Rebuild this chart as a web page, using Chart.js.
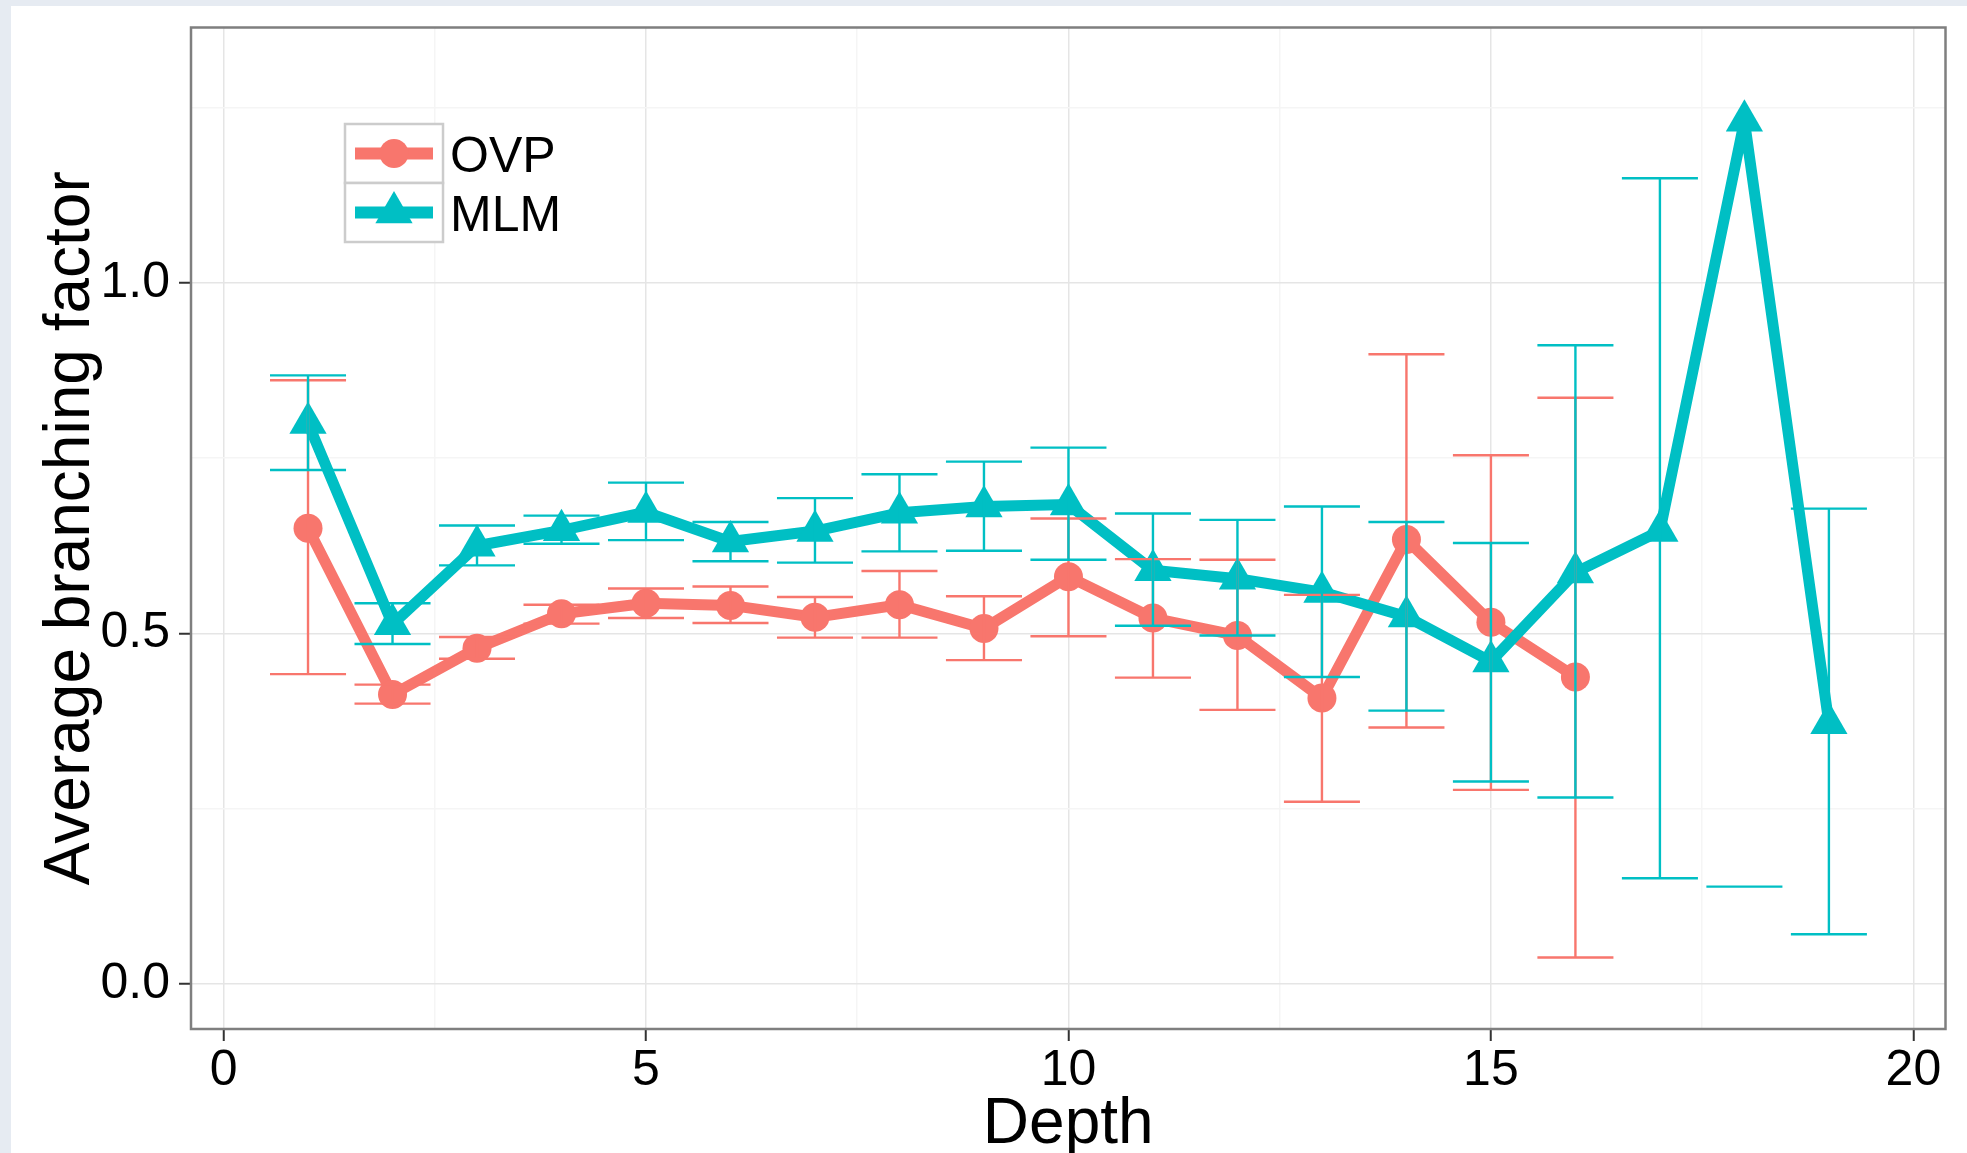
<!DOCTYPE html>
<html>
<head>
<meta charset="utf-8">
<title>Average branching factor by depth</title>
<script src="https://cdn.jsdelivr.net/npm/chart.js@4.4.1/dist/chart.umd.min.js"></script>
<style>
  html, body { margin: 0; padding: 0; }
  body { background: #e6ebf2; width: 1967px; height: 1153px; overflow: hidden; position: relative; }
  #wrap { position: absolute; left: 11px; top: 6px; width: 1956px; height: 1147px; background: #ffffff; }
</style>
</head>
<body>
<div id="wrap"><canvas id="chart"></canvas></div>
<script>
// depth levels
const depth = [1, 2, 3, 4, 5, 6, 7, 8, 9, 10, 11, 12, 13, 14, 15, 16, 17, 18, 19];

// OVP series (mean, lower, upper)
const ovpMean = [0.650, 0.413, 0.479, 0.528, 0.543, 0.540, 0.523, 0.541, 0.507, 0.581, 0.522, 0.497, 0.408, 0.634, 0.516, 0.438];
const ovpLow  = [0.442, 0.400, 0.464, 0.514, 0.522, 0.515, 0.494, 0.494, 0.462, 0.496, 0.437, 0.391, 0.260, 0.366, 0.277, 0.038];
const ovpHigh = [0.861, 0.427, 0.495, 0.541, 0.564, 0.567, 0.552, 0.589, 0.553, 0.664, 0.606, 0.605, 0.555, 0.898, 0.754, 0.836];

// MLM series (mean, lower, upper)
const mlmMean = [0.800, 0.513, 0.625, 0.647, 0.673, 0.631, 0.646, 0.672, 0.681, 0.684, 0.590, 0.578, 0.559, 0.524, 0.460, 0.587, 0.646, 1.231, 0.372];
const mlmLow  = [0.733, 0.485, 0.597, 0.628, 0.633, 0.603, 0.601, 0.617, 0.618, 0.605, 0.511, 0.497, 0.438, 0.390, 0.289, 0.266, 0.151, 0.139, 0.071];
const mlmHigh = [0.868, 0.543, 0.654, 0.668, 0.715, 0.659, 0.693, 0.727, 0.745, 0.765, 0.671, 0.662, 0.681, 0.659, 0.629, 0.911, 1.149, null, 0.678];

// axis ticks
const xTicks = [0, 5, 10, 15, 20];
const xTickLabels = ['0', '5', '10', '15', '20'];
const yTicks = [0, 0.5, 1.0];
const yTickLabels = ['0.0', '0.5', '1.0'];

const RED = '#F8766D';
const TEAL = '#00BFC4';
const FONT = "'Liberation Sans', Arial, Helvetica, sans-serif";

function withMinor(major) {
  const step = major[1] - major[0];
  const out = [];
  major.forEach(v => { out.push(v); out.push(v + step / 2); });
  return out;
}
const isMajor = (list, v) => list.some(t => Math.abs(t - v) < 1e-9);

const series = [
  { name: 'OVP', color: RED, style: 'circle', radius: 14.5, mean: ovpMean, low: ovpLow, high: ovpHigh },
  { name: 'MLM', color: TEAL, style: 'triangle', radius: 21.5, mean: mlmMean, low: mlmLow, high: mlmHigh }
];

// error bars drawn over lines and points, like the ggplot layer order
const errorBars = {
  id: 'errorBars',
  afterDatasetsDraw(chart) {
    const {ctx, scales: {x, y}, chartArea} = chart;
    ctx.save();
    ctx.beginPath();
    ctx.rect(chartArea.left, chartArea.top, chartArea.right - chartArea.left, chartArea.bottom - chartArea.top);
    ctx.clip();
    ctx.lineWidth = 2.4;
    series.forEach(s => {
      ctx.strokeStyle = s.color;
      s.mean.forEach((m, i) => {
        const cx = x.getPixelForValue(depth[i]);
        const xl = x.getPixelForValue(depth[i] - 0.45);
        const xr = x.getPixelForValue(depth[i] + 0.45);
        const lo = s.low[i], hi = s.high[i];
        ctx.beginPath();
        if (hi != null) { ctx.moveTo(xl, y.getPixelForValue(hi)); ctx.lineTo(xr, y.getPixelForValue(hi)); }
        if (lo != null) { ctx.moveTo(xl, y.getPixelForValue(lo)); ctx.lineTo(xr, y.getPixelForValue(lo)); }
        if (hi != null && lo != null) { ctx.moveTo(cx, y.getPixelForValue(hi)); ctx.lineTo(cx, y.getPixelForValue(lo)); }
        ctx.stroke();
      });
    });
    ctx.restore();
  }
};

// panel border and legend inside the panel
const frameAndLegend = {
  id: 'frameAndLegend',
  afterDraw(chart) {
    const {ctx, chartArea} = chart;
    ctx.save();
    ctx.strokeStyle = '#7f7f7f';
    ctx.lineWidth = 2.5;
    ctx.strokeRect(chartArea.left, chartArea.top, chartArea.right - chartArea.left, chartArea.bottom - chartArea.top);

    const bx = 334, by = 118, bw = 98, bh = 59;
    series.forEach((s, k) => {
      const top = by + k * bh;
      ctx.fillStyle = '#ffffff';
      ctx.fillRect(bx, top, bw, bh);
      ctx.strokeStyle = '#cccccc';
      ctx.lineWidth = 2.5;
      ctx.strokeRect(bx, top, bw, bh);
      const cy = top + bh / 2;
      ctx.strokeStyle = s.color;
      ctx.lineWidth = 12;
      ctx.beginPath();
      ctx.moveTo(bx + 10, cy);
      ctx.lineTo(bx + bw - 10, cy);
      ctx.stroke();
      ctx.fillStyle = s.color;
      Chart.helpers.drawPoint(ctx, { pointStyle: s.style, radius: s.radius, borderWidth: 0, rotation: 0 }, bx + bw / 2, cy);
      ctx.fillStyle = '#000000';
      ctx.font = '50px ' + FONT;
      ctx.textAlign = 'left';
      ctx.textBaseline = 'alphabetic';
      ctx.fillText(s.name, bx + bw + 7, cy + 18);
    });
    ctx.restore();
  }
};

function noPadding(axis) {
  axis.paddingTop = 0;
  axis.paddingBottom = 0;
  axis.paddingLeft = 0;
  axis.paddingRight = 0;
}

const ctx = document.getElementById('chart');

new Chart(ctx, {
  type: 'line',
  data: {
    datasets: series.map((s, k) => ({
      label: s.name,
      data: s.mean.map((v, i) => ({ x: depth[i], y: v })),
      borderColor: s.color,
      backgroundColor: s.color,
      borderWidth: 11,
      borderJoinStyle: 'round',
      pointStyle: s.style,
      pointRadius: s.radius,
      pointBorderWidth: 0,
      pointBackgroundColor: s.color,
      fill: false,
      tension: 0,
      order: k === 0 ? 1 : 0
    }))
  },
  options: {
    responsive: true,
    maintainAspectRatio: false,
    animation: false,
    layout: { padding: { left: 0, right: 18, top: 21, bottom: 0 } },
    plugins: { legend: { display: false }, tooltip: { enabled: false } },
    scales: {
      x: {
        type: 'linear',
        min: -0.385,
        max: 20.38,
        afterBuildTicks: axis => { axis.ticks = withMinor(xTicks).filter(v => v <= 20).map(v => ({ value: v })); },
        afterFit: axis => { axis.height = 124; noPadding(axis); },
        border: { display: false },
        grid: {
          color: c => isMajor(xTicks, c.tick.value) ? '#e5e5e5' : '#f5f5f5',
          lineWidth: 1.5,
          drawTicks: true,
          tickLength: 12,
          tickWidth: 2,
          tickColor: c => isMajor(xTicks, c.tick.value) ? '#333333' : 'rgba(0,0,0,0)'
        },
        ticks: {
          autoSkip: false,
          maxRotation: 0,
          padding: 0,
          color: '#000000',
          font: { family: FONT, size: 50 },
          callback: v => { const i = xTicks.findIndex(t => Math.abs(t - v) < 1e-9); return i >= 0 ? xTickLabels[i] : ''; }
        },
        title: {
          display: true,
          text: 'Depth',
          color: '#000000',
          font: { family: FONT, size: 64, lineHeight: 1 },
          padding: { top: 0, bottom: -4 }
        }
      },
      y: {
        type: 'linear',
        min: -0.064,
        max: 1.364,
        afterBuildTicks: axis => { axis.ticks = withMinor(yTicks).map(v => ({ value: v })); },
        afterFit: axis => { axis.width = 180; noPadding(axis); },
        border: { display: false },
        grid: {
          color: c => isMajor(yTicks, c.tick.value) ? '#e5e5e5' : '#f5f5f5',
          lineWidth: 1.5,
          drawTicks: true,
          tickLength: 12,
          tickWidth: 2,
          tickColor: c => isMajor(yTicks, c.tick.value) ? '#333333' : 'rgba(0,0,0,0)'
        },
        ticks: {
          autoSkip: false,
          padding: 9,
          color: '#000000',
          font: { family: FONT, size: 50 },
          callback: v => { const i = yTicks.findIndex(t => Math.abs(t - v) < 1e-9); return i >= 0 ? yTickLabels[i] : ''; }
        },
        title: {
          display: true,
          text: 'Average branching factor',
          color: '#000000',
          font: { family: FONT, size: 64, lineHeight: 1 },
          padding: { top: 28, bottom: 0 }
        }
      }
    }
  },
  plugins: [errorBars, frameAndLegend]
});
</script>
</body>
</html>
